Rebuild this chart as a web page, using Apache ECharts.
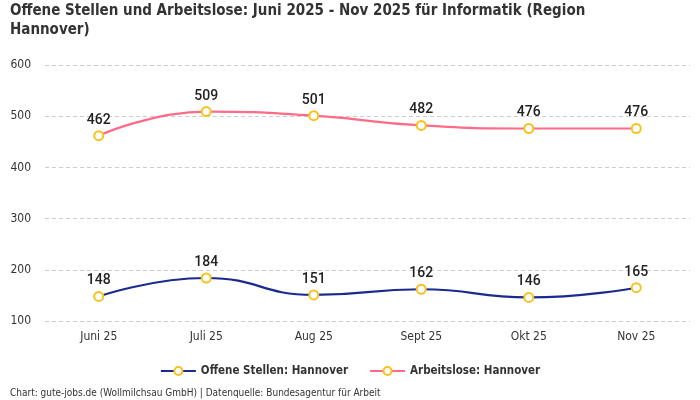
<!DOCTYPE html>
<html><head><meta charset="utf-8">
<script src="https://cdn.jsdelivr.net/npm/echarts@6/dist/echarts.min.js"></script>
<style>html,body{margin:0;padding:0;background:#fff}#c{width:700px;height:400px}</style>
</head><body><div id="c"></div>
<script>
const categories = ['Juni 25','Juli 25','Aug 25','Sept 25','Okt 25','Nov 25'];
const offeneStellen = [148,184,151,162,146,165];
const arbeitslose = [462,509,501,482,476,476];
const yTicks = [100,200,300,400,500,600];
const FONT = '"Liberation Sans Narrow","DejaVu Sans Condensed","Roboto",sans-serif';
const LFONT = 'Roboto,"Liberation Sans Narrow",sans-serif';
const chart = echarts.init(document.getElementById('c'));
const sym = {color:'#fff', borderColor:'#f8c21c', borderWidth:2};
chart.setOption({
  textStyle:{fontFamily:FONT},
  title:{
    text:'Offene Stellen und Arbeitslose: Juni 2025 - Nov 2025 für Informatik (Region\nHannover)',
    left:5, top:-3,
    textStyle:{fontFamily:FONT, fontSize:15, fontWeight:'bold', color:'#333', lineHeight:19}
  },
  graphic:[{type:'text', left:10, top:388, style:{text:'Chart: gute-jobs.de (Wollmilchsau GmbH) | Datenquelle: Bundesagentur für Arbeit', font:'10px '+FONT, fill:'#333'}}],
  legend:{
    bottom:18, left:'center', itemWidth:35, itemHeight:10, itemGap:21,
    textStyle:{fontFamily:FONT, fontSize:11.5, fontWeight:'bold', color:'#333'}
  },
  grid:{left:45, right:10, top:65, bottom:79},
  xAxis:{
    type:'category', data:categories,
    axisLine:{show:false}, axisTick:{show:false},
    axisLabel:{color:'#333', fontSize:12, margin:10, fontFamily:FONT}
  },
  yAxis:{
    type:'value', min:100, max:600, interval:100,
    axisLabel:{color:'#333', fontSize:12, margin:14, fontFamily:FONT,
      formatter:v=>yTicks.includes(v)?String(v):''},
    splitLine:{lineStyle:{type:[4,3], color:'#ccc'}}
  },
  series:[
    {name:'Offene Stellen: Hannover', type:'line', data:offeneStellen, smooth:true,
     symbol:'circle', symbolSize:9, itemStyle:sym,
     lineStyle:{color:'#1b2a8f', width:2.2},
     label:{show:true, position:'top', distance:3, fontSize:14, fontWeight:500, color:'#222', fontFamily:LFONT}},
    {name:'Arbeitslose: Hannover', type:'line', data:arbeitslose, smooth:true,
     symbol:'circle', symbolSize:9, itemStyle:sym,
     lineStyle:{color:'#ff6b88', width:2.2},
     label:{show:true, position:'top', distance:3, fontSize:14, fontWeight:500, color:'#222', fontFamily:LFONT}}
  ]
});
</script></body></html>
